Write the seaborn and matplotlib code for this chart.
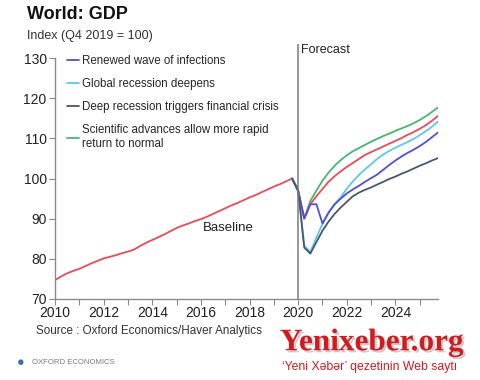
import matplotlib
matplotlib.use("Agg")
import matplotlib.pyplot as plt
import matplotlib.patheffects as pe
from matplotlib.lines import Line2D
import numpy as np
import pandas as pd
import seaborn as sns

# ── Data ─────────────────────────────────────────────────────────────────────
baseline_years = np.arange(2010, 2020)
baseline_values = [
    74.7, 75.6, 76.4, 77.0,   # 2010
    77.5, 78.2, 78.9, 79.5,   # 2011
    80.1, 80.5, 80.9, 81.4,   # 2012
    81.8, 82.3, 83.2, 84.0,   # 2013
    84.7, 85.4, 86.1, 86.9,   # 2014
    87.7, 88.3, 88.8, 89.4,   # 2015
    89.9, 90.5, 91.2, 91.9,   # 2016
    92.6, 93.3, 93.9, 94.6,   # 2017
    95.3, 95.9, 96.6, 97.3,   # 2018
    98.0, 98.6, 99.3, 100.0,  # 2019
]

# forecast quarters 2019Q4 .. 2025Q4
forecast_quarters = [
    "2019Q4",
    "2020Q1", "2020Q2", "2020Q3", "2020Q4",
    "2021Q1", "2021Q2", "2021Q3", "2021Q4",
    "2022Q1", "2022Q2", "2022Q3", "2022Q4",
    "2023Q1", "2023Q2", "2023Q3", "2023Q4",
    "2024Q1", "2024Q2", "2024Q3", "2024Q4",
    "2025Q1", "2025Q2", "2025Q3", "2025Q4",
]
baseline_fc = [100.0, 96.9, 90.1, 93.6, 95.6, 97.4, 99.2, 100.6, 101.8, 102.9, 103.9, 104.9,
               105.9, 106.6, 107.3, 108.0, 108.7, 109.4, 110.1, 110.9, 111.6, 112.4, 113.3,
               114.4, 115.6]
renewed_wave = [100.0, 96.9, 90.0, 93.6, 93.6, 88.8, 91.5, 93.6, 95.0, 96.3, 97.3, 98.2,
                99.2, 100.1, 101.0, 102.2, 103.4, 104.5, 105.5, 106.4, 107.2, 108.1, 109.1,
                110.3, 111.5]
global_recession = [100.0, 97.2, 83.3, 81.7, 85.3, 88.7, 91.6, 93.6, 95.3, 97.5, 99.3, 100.9,
                    102.3, 103.6, 104.9, 106.0, 106.9, 107.7, 108.4, 109.1, 109.9, 110.8,
                    111.8, 112.9, 114.2]
deep_recession = [100.0, 97.0, 82.8, 81.3, 84.2, 87.0, 89.3, 91.2, 92.8, 94.2, 95.6, 96.5,
                  97.2, 97.8, 98.5, 99.2, 99.9, 100.5, 101.2, 101.8, 102.5, 103.2, 103.8,
                  104.5, 105.1]
scientific = [100.0, 96.9, 90.1, 94.4, 97.0, 99.5, 101.5, 103.2, 104.6, 105.8, 106.8, 107.6,
              108.4, 109.2, 109.9, 110.6, 111.2, 111.9, 112.5, 113.1, 113.8, 114.6, 115.5,
              116.6, 117.7]

scenario_labels = [
    "Renewed wave of infections",
    "Global recession deepens",
    "Deep recession triggers financial crisis",
    "Scientific advances allow more rapid\nreturn to normal",
]
scenario_colors = ["#4f4fd8", "#5cc8ea", "#4a5670", "#45b86e"]
baseline_color = "#ec4a55"


def quarter_to_x(q: str) -> float:
    return int(q[:4]) + (int(q[-1]) - 1) / 4


fc_x = [quarter_to_x(q) for q in forecast_quarters]
hist_x = [y + k / 4 for y in baseline_years for k in range(4)]

hist = pd.DataFrame({"x": hist_x, "value": baseline_values, "series": "Baseline"})
fc_frames = [pd.DataFrame({"x": fc_x, "value": baseline_fc, "series": "Baseline fc"})]
for lab, vals in zip(scenario_labels, [renewed_wave, global_recession, deep_recession, scientific]):
    fc_frames.append(pd.DataFrame({"x": fc_x, "value": vals, "series": lab}))
df = pd.concat([hist] + fc_frames, ignore_index=True)

# ── Plot ─────────────────────────────────────────────────────────────────────
sns.set_style("white")
plt.rcParams["font.family"] = ["Liberation Sans", "DejaVu Sans"]

fig = plt.figure(figsize=(4.8, 3.8), dpi=100)
ax = fig.add_axes([0.1146, 0.2132, 0.7979, 0.6708])

palette = {"Baseline": baseline_color, "Baseline fc": baseline_color}
palette.update(dict(zip(scenario_labels, scenario_colors)))
order = ["Baseline", scenario_labels[3], "Baseline fc", scenario_labels[1],
         scenario_labels[0], scenario_labels[2]]
for s in order:
    sns.lineplot(data=df[df["series"] == s], x="x", y="value", color=palette[s],
                 lw=1.3, ax=ax, legend=False)

ax.set_xlim(2010, 2025.75)
ax.set_ylim(70, 133.5)
ax.axvline(2020, color="#7a7a7a", lw=1.1)

for side in ["top", "right"]:
    ax.spines[side].set_visible(False)
for side in ["left", "bottom"]:
    ax.spines[side].set_color("#8a8a8a")
    ax.spines[side].set_linewidth(1.0)
ax.spines["left"].set_bounds(70, 130)

ax.set_yticks(np.arange(70, 131, 10))
ax.set_xticks(np.arange(2010, 2025, 2))
ax.set_xticks(np.arange(2011, 2026, 2), minor=True)
ax.tick_params(axis="both", which="both", direction="out", length=4, width=0.8,
               color="#8a8a8a", labelsize=10, labelcolor="#222222", pad=2,
               left=True, bottom=True)
ax.tick_params(axis="x", pad=1)
ax.set_xlabel("")
ax.set_ylabel("")

# legend
handles = [Line2D([], [], color=c, lw=1.3) for c in scenario_colors]
ax.legend(handles, scenario_labels, loc="upper left", bbox_to_anchor=(0.02, 0.974),
          frameon=False, fontsize=8.3, handlelength=1.0, handletextpad=0.25,
          labelspacing=0.95, borderaxespad=0.0)

ax.text(2020.1, 133.5, "Forecast", fontsize=9, color="#222222", va="top", ha="left")
ax.text(2016.1, 87.8, "Baseline", fontsize=9.5, color="#222222", va="center", ha="left")

# titles and footer
fig.text(0.056, 0.962, "World: GDP", fontsize=13, fontweight="bold", color="#111111", va="center")
fig.text(0.056, 0.905, "Index (Q4 2019 = 100)", fontsize=9, color="#333333", va="center")
fig.text(0.075, 0.13, "Source : Oxford Economics/Haver Analytics", fontsize=8.4,
         color="#333333", va="center")
fig.text(0.036, 0.045, "\u25CF", fontsize=9, color="#3b6ea8", va="center")
fig.text(0.066, 0.045, "OXFORD ECONOMICS", fontsize=5.6, color="#7a7a7a", va="center")

# watermark from the source image
fig.text(0.583, 0.098, "Yenixeber.org", fontsize=22.5, fontweight="bold", color="#d21a1f",
         family=["Liberation Serif", "DejaVu Serif"], va="center",
         path_effects=[pe.withSimplePatchShadow(offset=(1.5, -1.5), shadow_rgbFace="#999999",
                                                alpha=0.5)])
fig.text(0.588, 0.035, "\u2018Yeni X\u0259b\u0259r\u2019 qezetinin Web sayt\u0131", fontsize=8.8,
         color="#d21a1f", va="center")

fig.savefig("out.png", dpi=100)
